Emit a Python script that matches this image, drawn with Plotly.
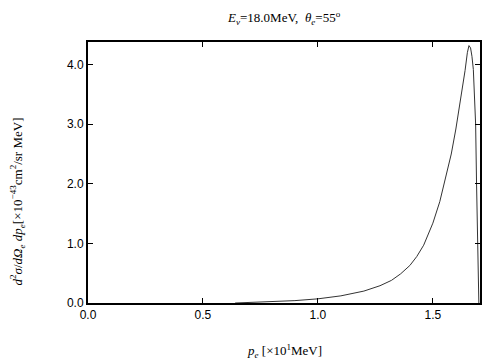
import plotly.graph_objects as go

p_e = [0.64, 0.8, 0.9, 1.0, 1.1, 1.2, 1.27, 1.32, 1.36, 1.40, 1.43, 1.46, 1.50, 1.53,
       1.555, 1.58, 1.60, 1.62, 1.64, 1.65, 1.657, 1.664, 1.670, 1.676, 1.682,
       1.686, 1.690, 1.694, 1.698, 1.700]
xsec = [0.0, 0.02, 0.04, 0.07, 0.12, 0.2, 0.29, 0.38, 0.49, 0.63, 0.78, 0.97, 1.34, 1.70,
        2.08, 2.50, 2.92, 3.38, 3.90, 4.20, 4.32, 4.28, 4.14, 3.92, 3.50,
        3.0, 2.0, 1.0, 0.3, 0.0]
xticks = [0.0, 0.5, 1.0, 1.5]
xticklabels = ["0.0", "0.5", "1.0", "1.5"]
yticks = [0.0, 1.0, 2.0, 3.0, 4.0]
yticklabels = ["0.0", "1.0", "2.0", "3.0", "4.0"]

fig = go.Figure()
fig.add_trace(go.Scatter(x=p_e, y=xsec, mode="lines",
                         line=dict(color="#333333", width=1), showlegend=False))

serif = "Liberation Serif, Times New Roman, serif"
sans = "Liberation Sans, Arial, sans-serif"

axis_common = dict(showgrid=False, zeroline=False, showline=True, linecolor="black",
                   linewidth=2, mirror="ticks", ticks="inside", ticklen=5,
                   tickcolor="black", tickwidth=1,
                   tickfont=dict(family=sans, size=12, color="black"))

fig.update_layout(
    width=504, height=360,
    margin=dict(l=80, r=32, t=34, b=65),
    paper_bgcolor="white", plot_bgcolor="white",
    xaxis=dict(range=[0, 1.705], tickvals=xticks, ticktext=xticklabels, **axis_common),
    yaxis=dict(range=[0, 4.38], tickvals=yticks, ticktext=yticklabels, **axis_common),
    annotations=[
        dict(text="<i>E</i><sub><i>ν</i></sub>=18.0MeV,  <i>θ</i><sub><i>e</i></sub>=55<sup>o</sup>",
             xref="paper", yref="paper", x=0.5, y=1, yshift=24, showarrow=False,
             xanchor="center", yanchor="middle", font=dict(family=serif, size=13, color="black")),
        dict(text="<i>p</i><sub><i>e</i></sub> [×10<sup>1</sup>MeV]",
             xref="paper", yref="paper", x=0.5, y=0, yshift=-48, showarrow=False,
             xanchor="center", yanchor="middle", font=dict(family=serif, size=13, color="black")),
        dict(text="<i>d</i><sup>2</sup><i>σ</i>/<i>d</i><i>Ω</i><sub><i>e</i></sub> <i>dp</i><sub><i>e</i></sub>[×10<sup>−43</sup>cm<sup>2</sup>/sr MeV]",
             xref="paper", yref="paper", x=0, xshift=-71, y=0.5, yshift=-29, textangle=-90,
             showarrow=False, xanchor="center", yanchor="middle",
             font=dict(family=serif, size=13, color="black")),
    ],
)

fig.write_html("out.html")
